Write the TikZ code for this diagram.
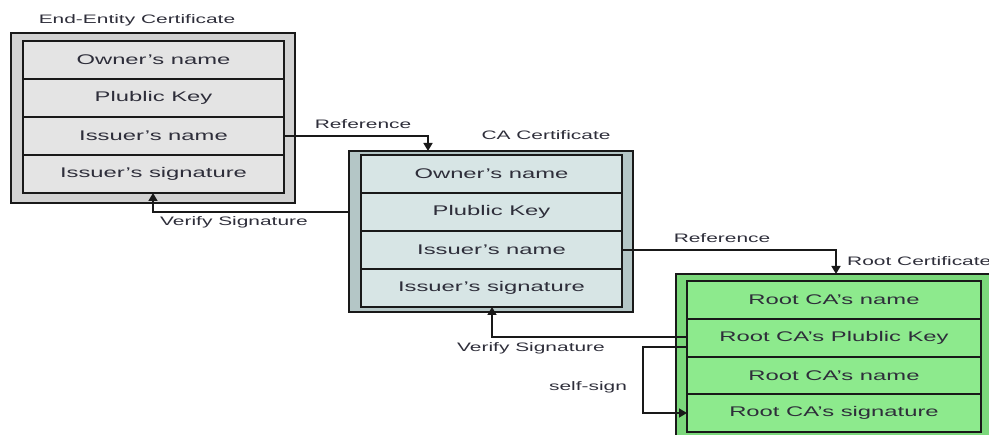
\documentclass[tikz,border=0pt]{standalone}
\usepackage{fontspec}
\setmainfont{Liberation Sans}[FakeStretch=1.7]
\usetikzlibrary{arrows.meta,positioning}

\definecolor{eegray}{HTML}{E4E4E4}
\definecolor{eeband}{HTML}{D2D2D2}
\definecolor{cablue}{HTML}{D7E5E5}
\definecolor{caband}{HTML}{B4C6C6}
\definecolor{rootgreen}{HTML}{8DEA8D}
\definecolor{rootband}{HTML}{7BD87B}
\definecolor{txt}{HTML}{2E2E3A}

\begin{document}
\begin{tikzpicture}[
  x=1pt, y=-1pt,
  font=\fontsize{14pt}{16pt}\selectfont,
  frame/.style={draw=black!90, line width=2.6pt},
  field/.style={draw=black!90, line width=2pt, minimum width=261pt, minimum height=38pt,
    inner sep=0pt, outer sep=0pt, anchor=north west, text=txt},
  tag/.style={font=\fontsize{12.3pt}{14pt}\selectfont, text=txt, inner sep=0pt},
  arrow/.style={-{Triangle[length=8pt,width=9pt]}, line width=1.6pt, draw=black!90},
  link/.style={line width=1.6pt, draw=black!90}
]
\useasboundingbox (0,0) rectangle (989,435);

% end-entity certificate
\draw[frame, fill=eeband] (11,33) rectangle (295,203);
\node[field, fill=eegray] (ee1) at (23,41) {Owner's name};
\node[field, fill=eegray, below=0pt of ee1] (ee2) {Plublic Key};
\node[field, fill=eegray, below=0pt of ee2] (ee3) {Issuer's name};
\node[field, fill=eegray, below=0pt of ee3] (ee4) {Issuer's signature};
\node[tag] (eelabel) at (137,20) {End-Entity Certificate};

% CA certificate
\draw[frame, fill=caband] (349,151) rectangle (633,312);
\node[field, fill=cablue] (ca1) at (361,155) {Owner's name};
\node[field, fill=cablue, below=0pt of ca1] (ca2) {Plublic Key};
\node[field, fill=cablue, below=0pt of ca2] (ca3) {Issuer's name};
\node[field, fill=cablue, below=0pt of ca3] (ca4) {Issuer's signature};
\node[tag] (calabel) at (546,135) {CA Certificate};

% root certificate
\draw[frame, fill=rootband] (676,274) rectangle (1000,450);
\node[field, fill=rootgreen, minimum width=294pt, minimum height=37.8pt] (rt1) at (687,281) {Root CA's name};
\node[field, fill=rootgreen, minimum width=294pt, minimum height=37.8pt, below=0pt of rt1] (rt2) {Root CA's Plublic Key};
\node[field, fill=rootgreen, minimum width=294pt, minimum height=37.8pt, below=0pt of rt2] (rt3) {Root CA's name};
\node[field, fill=rootgreen, minimum width=294pt, minimum height=37.8pt, below=0pt of rt3] (rt4) {Root CA's signature};
\node[tag, anchor=west] (rtlabel) at (847,261) {Root Certificate};

% references
\coordinate (ref1) at (428,151);
\draw[arrow] (ee3.east) -| (ref1);
\node[tag] (ref1label) at (363,124) {Reference};
\coordinate (ref2) at (836,274);
\draw[arrow] (ca3.east) -| (ref2);
\node[tag] (ref2label) at (722,238) {Reference};

% signature checks
\coordinate (ver1) at (349,212);
\coordinate (ver1tip) at (153,193);
\draw[arrow] (ver1) -| (ver1tip);
\node[tag] (ver1label) at (234,222) {Verify Signature};
\coordinate (ver2) at (687,337);
\coordinate (ver2tip) at (492,307);
\draw[arrow] (ver2) -| (ver2tip);
\node[tag] (ver2label) at (531,348) {Verify Signature};

% self-sign loop
\coordinate (self1) at (687,347);
\coordinate (self2) at (643,413);
\draw[arrow] (self1) -| (self2) -- (rt4.west |- self2);
\node[tag] (selflabel) at (588,387) {self-sign};
\end{tikzpicture}
\end{document}
